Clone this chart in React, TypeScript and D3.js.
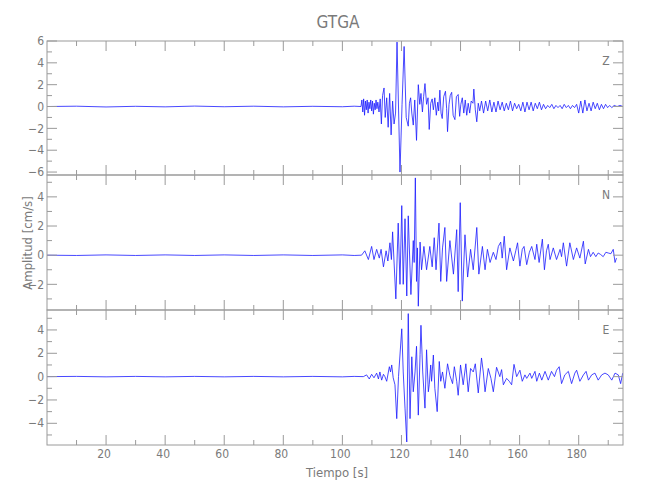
import React from "react";
import * as d3 from "d3";

// ---------- data ----------
const xTickMajor = [20, 40, 60, 80, 100, 120, 140, 160, 180];
const xTickMinor = [10, 30, 50, 70, 90, 110, 130, 150, 170, 190];
const componentNames = ["Z", "N", "E"];

const zTime = [0, 10, 20, 30, 40, 50, 60, 70, 80, 90, 100, 104, 106.3,
  106.6, 106.9, 107.2, 107.5, 107.8, 108.1, 108.4, 108.7, 109.0, 109.3, 109.6, 109.9, 110.2, 110.5, 110.8, 111.1, 111.4, 111.7, 112.0, 112.4, 112.8, 113.2, 113.6, 114.1, 114.5, 115.0, 115.5, 116.0, 116.5, 117.0, 117.5, 118.0, 118.5, 119.5, 120.2, 120.9,
  121.6, 122.3, 122.7, 123.1, 123.5, 124.0, 124.5, 125.1, 125.7, 126.2, 126.6, 127.1, 127.5, 127.96, 128.5, 129.0, 129.4, 129.9, 130.4, 130.8, 131.3, 131.8, 132.3, 132.6, 133.0, 133.4, 133.8, 134.3, 134.9, 135.3, 135.6, 136.1, 136.5, 137.0, 137.5, 138.1, 138.6, 139.2, 139.7, 140.1, 140.6, 141.1, 141.6, 142.1, 142.6, 143.1, 143.6, 144.2, 144.5, 145.0, 145.5, 146.0, 146.5, 147.1,
  147.8, 148.5, 149.2, 149.9, 150.6, 151.3, 152.0, 152.7, 153.4, 154.1, 154.8, 155.5, 156.2, 156.9, 157.6, 158.3, 159.0, 159.7, 160.4, 161.1, 161.8, 162.5, 163.2, 163.9, 164.6, 165.3, 166.0, 166.7, 167.4, 168.1, 168.8, 169.5, 170.2, 170.9, 171.6, 172.3, 173.0, 173.7, 174.4, 175.1, 175.8, 176.5, 177.2, 177.9, 178.6, 179.3, 180.0, 180.7, 181.4, 182.1, 182.8, 183.5, 184.2, 184.9, 185.6, 186.3, 187.0, 187.7, 188.4, 189.1, 189.8, 190.5, 191.2, 192.0, 193.0, 194.0, 195.0];
const zAmp = [0, 0.03, -0.04, 0.02, -0.03, 0.04, -0.02, 0.03, -0.03, 0.02, -0.02, 0.03, 0,
  0.6, -0.5, 0.7, -0.8, 0.5, -0.3, 0.6, -0.6, 0.4, -0.2, 0.6, -0.4, 0.5, -0.7, 0.3, -0.3, 0.6, -0.2, 0.4, -0.5, 0.7, -1.6, 1.0, 1.7, -1.0, 0.8, -1.9, 1.2, -2.6, 0.5, -1.6, -0.6, 5.9, -6.0, 0.2, 5.5,
  -1.0, -1.8, 0.3, 0.8, -0.6, -1.7, 0.6, -3.1, 2.0, 0.2, 1.2, -0.5, 0.9, 2.1, 0.2, 0.8, -2.1, 0.3, 0.7, -0.3, 0.8, -0.8, 0.4, -0.4, 1.5, -0.6, -1.1, 0.9, 1.4, -0.2, -2.3, 0.2, 1.0, 1.3, -0.8, -1.2, 0.9, 1.1, -0.9, 0.2, 0.8, -0.6, 0.6, -0.8, 0.3, -0.6, 0.5, 0.3, 1.6, -0.3, -1.4, 0.3, -0.4, 0.5,
  -0.6, 0.5, -0.4, 0.6, -0.5, 0.4, -0.5, 0.5, -0.3, 0.4, -0.4, 0.3, -0.3, 0.5, -0.4, 0.3, -0.2, 0.2, -0.4, 0.4, -0.5, 0.4, -0.3, 0.4, -0.4, 0.3, -0.2, 0.4, -0.3, 0.2, -0.2, 0.1, -0.1, 0.2, -0.2, 0.1, -0.1, 0.1, -0.2, 0.2, -0.1, 0.1, -0.2, 0.1, -0.1, 0.2, -0.6, 0.5, -0.6, 0.6, -0.4, 0.3, -0.4, 0.4, -0.2, 0.3, -0.3, 0.2, -0.2, 0.2, -0.1, 0.1, -0.1, 0.1, 0.0, 0.1, 0.0];

const nTime = [0, 10, 20, 30, 40, 50, 60, 70, 80, 90, 100, 104, 106.5,
  107.6, 108.8, 109.9, 110.7, 111.6, 112.5, 113.1, 113.9, 114.8, 115.4, 116.1, 116.6, 117.0, 118.1, 118.9, 119.5, 120.1, 120.6, 121.2, 121.8, 122.3, 123.2, 124.0, 124.3, 124.7, 125.1, 125.4, 125.7,
  126.3, 126.8, 127.6, 128.5, 129.6, 130.4, 131.1, 131.7, 132.7, 133.3, 133.9, 134.7, 135.3, 136.4, 137.6, 138.7, 139.2, 139.9, 140.6, 141.5, 142.4, 143.4, 144.3, 145.5, 146.2, 147.4, 148.3, 149.1, 150.0, 151.1, 152.0, 152.8, 153.6, 154.1, 154.8, 155.6, 156.7, 157.9, 158.7, 159.3, 160.1, 160.9, 161.5, 162.4, 163.3, 164.1, 165.2, 165.8, 166.6, 167.7, 168.4, 169.1, 169.7, 170.3, 171.4, 172.5, 173.7, 174.2, 174.8, 175.9, 177.0, 178.2, 179.3, 180.4, 181.6, 182.2, 183.3, 184.0, 184.9, 185.8, 186.6, 187.4, 188.3, 189.2, 190.0, 190.9, 191.7, 192.3, 192.8];
const nAmp = [0, -0.02, 0.02, -0.02, 0.02, -0.02, 0.02, -0.02, 0.02, -0.02, 0.02, -0.02, 0,
  0.3, -0.3, 0.6, -0.3, 0.4, -0.2, 0.4, -0.8, 0.3, -0.4, 0.85, -0.3, 1.6, -3.0, 2.2, -2.0, 3.4, -2.0, 2.5, -2.8, 2.7, -2.7, 1.0, -0.5, 5.3, -1.8, 0.5, -3.5,
  0.9, -1.0, 0.6, -1.0, 0.6, -0.8, 1.2, -1.0, 2.2, -1.8, 0.5, 1.9, -1.8, 1.0, -1.3, 1.75, -2.5, 3.6, -3.15, 1.4, -1.5, 0.4, -1.0, 1.9, -1.3, 0.6, -1.0, 0.4, -0.5, 0.2, -0.3, 0.6, 0.9, -0.2, 1.3, -1.0, 0.5, -0.4, 0.3, 0.85, -0.75, 0.4, 0.6, -0.65, 0.2, 0.6, -0.3, 0.75, -0.5, 1.1, -1.0, 0.3, 0.75, -0.3, 0.5, -0.3, 0.4, -0.1, 0.85, -0.75, 0.85, -0.3, 0.5, -0.2, 0.96, -0.6, 0.4, -0.1, 0.2, -0.1, 0.15, 0.05, -0.1, 0.2, 0.15, 0.1, 0.4, -0.5, -0.2];

const eTime = [0, 10, 20, 30, 40, 50, 60, 70, 80, 90, 100, 104, 107.1,
  108.2, 109.1, 109.9, 110.7, 111.6, 112.2, 112.7, 113.3, 113.9, 114.4, 115.0, 115.9, 116.3, 116.7, 117.2, 117.8, 118.4, 119.0, 120.1, 120.6, 121.2, 121.8, 122.3, 122.9, 123.5, 124.0, 124.6, 125.1, 125.7, 126.3, 126.6, 127.2, 127.96, 128.5, 129.1, 129.4, 129.9, 130.2, 130.8, 131.3, 132.1, 132.8, 133.3, 133.9, 134.7, 135.6, 136.4, 137.3, 137.9, 138.7, 139.2, 140.0, 140.9, 141.8, 142.6, 143.4, 144.3, 145.0, 146.0, 147.1, 147.7, 148.3, 149.4, 150.3, 151.1, 152.2, 153.3, 153.9, 154.5, 155.6, 156.5, 157.3, 158.1, 159.0, 160.1, 160.9, 161.8, 162.4, 163.5, 164.1, 165.2, 165.8, 166.7, 167.5, 168.6, 169.7, 170.8, 171.8, 172.5, 173.4, 174.2, 175.3, 176.5, 177.6, 178.7, 179.3, 180.4, 181.6, 182.5, 183.3, 184.4, 185.5, 186.6, 187.8, 188.9, 190.0, 191.2, 192.3, 193.4, 194.2, 194.9];
const eAmp = [0, 0.02, -0.02, 0.02, -0.02, 0.02, -0.02, 0.02, -0.02, 0.02, -0.02, 0.02, 0,
  0.15, -0.2, 0.2, -0.1, 0.3, -0.2, 0.4, -0.3, 0.2, 0.0, -0.4, 0.85, 0.4, 1.0, -0.1, -0.7, -3.6, 0.0, 4.1, 0.4, -2.7, -5.6, 5.4, -3.6, 1.7, -1.3, 0.4, 2.6, -3.3, 1.9, 4.4, 0.4, -2.7, 2.3, -1.3, -0.7, 1.0, -0.4, 1.85, -1.0, -3.0, 1.3, -0.4, 0.4, -1.0, 1.1, 0.1, -0.6, 0.85, -0.4, -1.6, 1.0, -0.7, 1.1, -1.3, 0.7, 0.4, 1.1, -1.4, 1.6, 0.4, -1.3, 0.7, -0.15, -1.3, 0.8, 0.0, 0.6, -0.7, -0.15, -0.4, -0.7, 1.05, 0.0, 0.55, -0.4, 0.15, -0.15, 0.3, -0.15, 0.45, -0.4, 0.3, -0.3, 0.45, -0.3, 0.45, 0.0, 0.55, 0.85, -0.6, 0.15, 0.45, -0.6, 0.3, 0.55, -0.4, 0.15, 0.45, -0.3, 0.15, 0.3, -0.3, 0.15, 0.3, 0.15, -0.3, 0.3, 0.15, -0.6, 0.3];

// ---------- layout ----------
const W = 650, H = 500;
const left = 47, right = 623;
const panelTops = [41, 175, 310];
const panelBottoms = [175, 310, 445];
const yDomains: [number, number][] = [[-6.27, 6.0], [-3.76, 5.5], [-5.86, 5.71]];

const axisColor = "#9a9a9a";
const textColor = "#7a7a7a";
const traceColor = "#1a1aff";
const font = "'DejaVu Sans Condensed', 'DejaVu Sans', sans-serif";

export default function App() {
  const x = d3.scaleLinear().domain([0, 195]).range([left, right]);
  const traces = [
    { t: zTime, a: zAmp },
    { t: nTime, a: nAmp },
    { t: eTime, a: eAmp },
  ];

  return (
    <svg width={W} height={H} style={{ position: "absolute", left: 0, top: 0, background: "#fff" }}
      fontFamily={font} fontStretch="condensed" fontWeight={300}>
      <defs>
        {panelTops.map((top, i) => (
          <clipPath id={`clip${i}`} key={i}>
            <rect x={left} y={top} width={right - left} height={panelBottoms[i] - top} />
          </clipPath>
        ))}
      </defs>
      <text x={338} y={28} textAnchor="middle" fontSize={17} fill={textColor}>GTGA</text>
      {panelTops.map((top, i) => {
        const bottom = panelBottoms[i];
        const y = d3.scaleLinear().domain(yDomains[i]).range([bottom, top]);
        const [lo, hi] = yDomains[i];
        const yMajor = d3.range(Math.ceil(lo / 2) * 2, hi + 0.001, 2);
        const yMinor = d3.range(Math.ceil(lo), hi + 0.001, 1).filter((v) => Math.abs(v % 2) === 1);
        const tr = traces[i];
        const pts = tr.t.map((t, k) => [t, tr.a[k]] as [number, number]);
        const line = d3.line<[number, number]>()
          .x((d) => x(d[0]))
          .y((d) => y(d[1]));
        return (
          <g key={i}>
            <path d={line(pts) || ""} fill="none" stroke={traceColor} strokeWidth={0.8}
              strokeLinejoin="round" clipPath={`url(#clip${i})`} />
            <rect x={left} y={top} width={right - left} height={bottom - top}
              fill="none" stroke={axisColor} strokeWidth={1} />
            {xTickMajor.map((v) => (
              <g key={`xM${v}`} stroke={axisColor}>
                <line x1={x(v)} x2={x(v)} y1={top} y2={top + 10} />
                <line x1={x(v)} x2={x(v)} y1={bottom} y2={bottom - 10} />
              </g>
            ))}
            {xTickMinor.map((v) => (
              <g key={`xm${v}`} stroke={axisColor}>
                <line x1={x(v)} x2={x(v)} y1={top} y2={top + 5} />
                <line x1={x(v)} x2={x(v)} y1={bottom} y2={bottom - 5} />
              </g>
            ))}
            {yMajor.map((v) => (
              <g key={`yM${v}`}>
                <line x1={left} x2={left + 10} y1={y(v)} y2={y(v)} stroke={axisColor} />
                <line x1={right} x2={right - 10} y1={y(v)} y2={y(v)} stroke={axisColor} />
                <text x={left - 3} y={y(v)} dy="0.35em" textAnchor="end" fontSize={12} fill={textColor}>
                  {v < 0 ? `\u2212${Math.abs(v)}` : `${v}`}
                </text>
              </g>
            ))}
            {yMinor.map((v) => (
              <g key={`ym${v}`} stroke={axisColor}>
                <line x1={left} x2={left + 5} y1={y(v)} y2={y(v)} />
                <line x1={right} x2={right - 5} y1={y(v)} y2={y(v)} />
              </g>
            ))}
            <text x={606} y={top + 20} dy="0.35em" textAnchor="middle" fontSize={12} fill={textColor}>
              {componentNames[i]}
            </text>
          </g>
        );
      })}
      {xTickMajor.map((v) => (
        <text key={`xl${v}`} x={x(v) - 2} y={458} textAnchor="middle" fontSize={12} fill={textColor}>{v}</text>
      ))}
      <text x={337} y={477} textAnchor="middle" fontSize={13} fill={textColor}>Tiempo  [s]</text>
      <text transform="translate(32,243) rotate(-90)" textAnchor="middle" fontSize={13} fill={textColor}>
        Amplitud  [cm/s]
      </text>
    </svg>
  );
}
